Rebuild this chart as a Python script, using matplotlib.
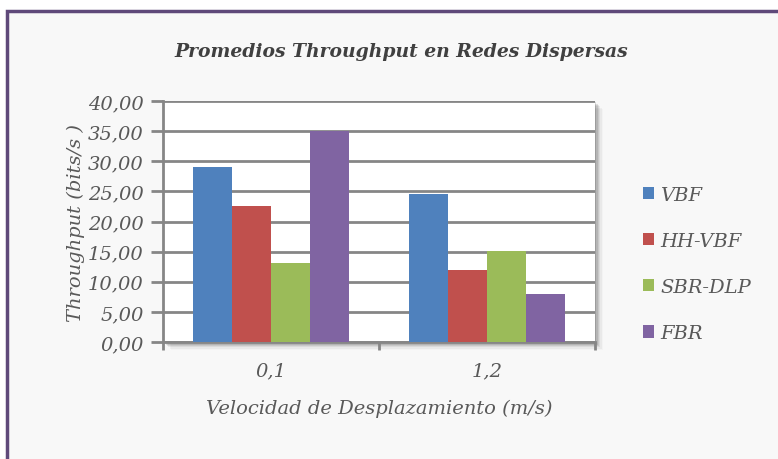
import numpy as np
import matplotlib
matplotlib.use("Agg")
import matplotlib.pyplot as plt
from matplotlib.patches import Rectangle
from matplotlib.ticker import FuncFormatter

# throughput averages per protocol and speed
speeds = ["0,1", "1,2"]
protocols = ["VBF", "HH-VBF", "SBR-DLP", "FBR"]
vbf = [29.0, 24.5]
hh_vbf = [22.5, 11.9]
sbr_dlp = [13.1, 15.1]
fbr = [35.0, 8.0]
colors = ["#4F81BD", "#C0504D", "#9BBB59", "#8064A2"]

plt.rcParams["font.family"] = ["DejaVu Serif"]
txt = "#595959"
grid_c = "#868686"
fs = 14

fig = plt.figure(figsize=(7.78, 4.60), dpi=100)
fig.patch.set_facecolor("white")

# outer chart frame
fig.patches.append(Rectangle((7 / 778, -0.05), 1.0, 1 - 12 / 460 + 0.05,
                             transform=fig.transFigure, facecolor="#F8F8F8",
                             edgecolor="#5F497A", linewidth=2.5, zorder=-3))

ax_l, ax_b, ax_w, ax_h = 163 / 778, 1 - 343 / 460, 432 / 778, 241 / 460

# soft drop shadow behind plot area
for i, a in enumerate([0.12, 0.10, 0.08, 0.06, 0.04, 0.02]):
    off = (i + 1) * 1.3
    fig.patches.append(Rectangle((ax_l + off / 778, ax_b - off / 460), ax_w, ax_h,
                                 transform=fig.transFigure, facecolor="black",
                                 edgecolor="none", alpha=a, zorder=-2))

ax = fig.add_axes([ax_l, ax_b, ax_w, ax_h])
ax.set_facecolor("white")

series = [vbf, hh_vbf, sbr_dlp, fbr]
x = np.arange(len(speeds))
bw = 0.18
for i, (vals, name, c) in enumerate(zip(series, protocols, colors)):
    ax.bar(x + (i - 1.5) * bw, vals, bw, color=c, label=name, zorder=3)

ax.set_xlim(-0.5, 1.5)
ax.set_ylim(0, 40)
ax.set_yticks(np.arange(0, 41, 5))
ax.yaxis.set_major_formatter(FuncFormatter(lambda v, p: f"{v:.2f}".replace(".", ",")))
ax.yaxis.grid(True, color=grid_c, linewidth=2, zorder=1)
ax.set_axisbelow(True)

ax.set_xticks(x)
ax.set_xticklabels(speeds)
ax.set_xticks([-0.5, 0.5, 1.5], minor=True)
ax.tick_params(axis="x", which="major", length=0, pad=14)
ax.tick_params(axis="x", which="minor", length=6, width=2, color=grid_c)
ax.tick_params(axis="y", length=9, width=2, color=grid_c, pad=5)
ax.tick_params(labelsize=fs, labelcolor=txt)
for lab in ax.get_xticklabels() + ax.get_yticklabels():
    lab.set_fontstyle("italic")

for s in ["top", "right"]:
    ax.spines[s].set_visible(False)
for s in ["left", "bottom"]:
    ax.spines[s].set_color(grid_c)
    ax.spines[s].set_linewidth(2)

ax.set_ylabel("Throughput (bits/s )", fontsize=fs, color=txt, style="italic", labelpad=2)
ax.set_xlabel("Velocidad de Desplazamiento (m/s)", fontsize=fs, color=txt,
              style="italic", labelpad=14)

fig.text(401 / 778, 1 - 52 / 460, "Promedios Throughput en Redes Dispersas",
         ha="center", va="center", fontsize=13.5, fontweight="bold",
         style="italic", color="#404040")

leg = fig.legend(loc="center left", bbox_to_anchor=(625 / 778, 1 - 265 / 460),
                 frameon=False, fontsize=fs, handlelength=0.6, handleheight=0.6,
                 handletextpad=0.3, labelspacing=1.45, labelcolor=txt)
for t in leg.get_texts():
    t.set_fontstyle("italic")

fig.savefig("out.png", dpi=100)
